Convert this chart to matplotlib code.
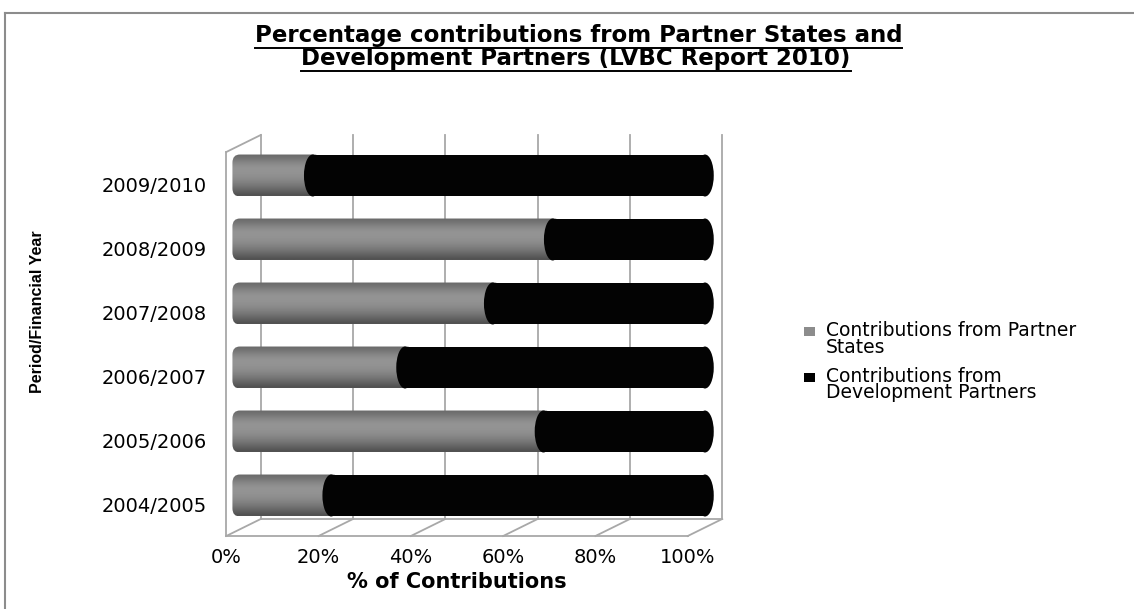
import numpy as np
import matplotlib.pyplot as plt
from matplotlib.patches import FancyBboxPatch, Ellipse, Rectangle
from matplotlib.lines import Line2D

years = ["2004/2005", "2005/2006", "2006/2007", "2007/2008", "2008/2009", "2009/2010"]
partner_states = [19, 65, 35, 54, 67, 15]
development_partners = [81, 35, 65, 46, 33, 85]
series_names = ["Contributions from Partner\nStates",
                "Contributions from\nDevelopment Partners"]
series_colors = ["#8c8c8c", "#000000"]
x_ticks = [0, 20, 40, 60, 80, 100]
x_labels = ["0%", "20%", "40%", "60%", "80%", "100%"]

W, H = 1134, 609
# fake 3d: half depth offset in data units
ddx, ddy = 3.74, 0.133
fig = plt.figure(figsize=(W / 100, H / 100), dpi=100)
ax = fig.add_axes([226.25 / W, (H - 527.5) / H, 496 / W, 384 / H])

frame = dict(color="#a8a8a8", lw=1.3, zorder=1, clip_on=False)
for v in x_ticks:
    ax.plot([v + ddx, v + ddx], [-0.5 + ddy, 5.5 + ddy], **frame)
    ax.plot([v - ddx, v + ddx], [-0.5 - ddy, -0.5 + ddy], **frame)
ax.plot([-ddx, 100 - ddx], [-0.5 - ddy, -0.5 - ddy], **frame)
ax.plot([ddx, 100 + ddx], [-0.5 + ddy, -0.5 + ddy], **frame)
ax.plot([-ddx, -ddx], [-0.5 - ddy, 5.5 - ddy], **frame)
ax.plot([-ddx, ddx], [5.5 - ddy, 5.5 + ddy], **frame)

# bars: gray cylinder with gradient, black part with round caps
h = 0.656
cw = 1.9
shade = np.array([0x52, 0x5e, 0x6a, 0x76, 0x80, 0x88, 0x8e, 0x92, 0x94, 0x93, 0x8c, 0x82, 0x76, 0x6c])
img = np.repeat((shade / 255.0)[:, None, None], 3, axis=2)
for i, (p, d) in enumerate(zip(partner_states, development_partners)):
    box = FancyBboxPatch((-2.4, i - h / 2), p + 2.4 + cw, h,
                         boxstyle="round,pad=0,rounding_size=1.6",
                         mutation_aspect=0.08, fc="none", ec="none")
    ax.add_patch(box)
    im = ax.imshow(img, extent=[-2.4, p + cw, i - h / 2, i + h / 2], origin="lower",
                   aspect="auto", interpolation="bilinear", zorder=3)
    im.set_clip_path(box)
    ax.add_patch(Rectangle((p, i - h / 2), d, h, fc="#030303", ec="none", zorder=4))
    ax.add_patch(Ellipse((p, i), 2 * cw, h, fc="#030303", ec="none", zorder=4))
    ax.add_patch(Ellipse((p + d, i), 2 * cw, h, fc="#030303", ec="none", zorder=4))

ax.set_xticks([v - ddx for v in x_ticks], x_labels, fontsize=14, family="DejaVu Sans")
ax.set_yticks([i - ddy for i in range(len(years))], years, fontsize=14, family="DejaVu Sans")
ax.set_xlim(-ddx, 100 + ddx)
ax.set_ylim(-0.5, 5.5)
ax.tick_params(axis="x", length=0, pad=15)
ax.tick_params(axis="y", length=0, pad=14)
for s in ax.spines.values():
    s.set_visible(False)

fig.text(457 / W, 1 - 581.7 / H, "% of Contributions", ha="center", va="center",
         fontsize=15, fontweight="bold", family="DejaVu Sans")
fig.text(38 / W, 1 - 311.5 / H, "Period/Financial Year", rotation=90, ha="center",
         va="center", fontsize=11.5, fontweight="bold", family="Liberation Sans")

# legend, square aligned with the first line of each label
for k, (name, c) in enumerate(zip(series_names, series_colors)):
    top = 325 + k * 45.5
    fig.add_artist(Rectangle((804 / W, 1 - (top + 11) / H), 11 / W, 9 / H,
                             fc=c, ec="none", transform=fig.transFigure))
    fig.text(826 / W, 1 - (top - 4) / H, name, ha="left", va="top", fontsize=13.5,
             linespacing=0.85, family="DejaVu Sans")

t1 = fig.text(578.5 / W, 1 - 42 / H, "Percentage contributions from Partner States and",
              ha="center", va="baseline", fontsize=16.5, fontweight="bold", family="DejaVu Sans")
t2 = fig.text(576 / W, 1 - 65.5 / H, "Development Partners (LVBC Report 2010)",
              ha="center", va="baseline", fontsize=16.5, fontweight="bold", family="DejaVu Sans")

# underline the title, and the grey outer border of the chart area
fig.canvas.draw()
r = fig.canvas.get_renderer()
for t in (t1, t2):
    bb = t.get_window_extent(r)
    fig.add_artist(Line2D([bb.x0 / W, bb.x1 / W], [(bb.y0 - 0.5) / H] * 2, color="black", lw=1.4))
fig.add_artist(Line2D([4.5 / W, 4.5 / W], [0, 1 - 13 / H], color="#8c8c8c", lw=1.5))
fig.add_artist(Line2D([4.5 / W, 1], [1 - 13 / H, 1 - 13 / H], color="#8c8c8c", lw=1.5))

fig.savefig("out.png", dpi=100)
